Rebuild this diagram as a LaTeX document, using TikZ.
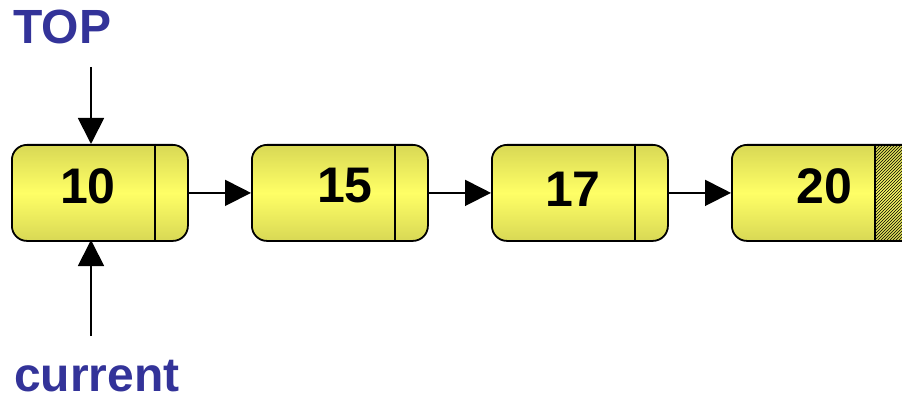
\documentclass[tikz,border=0pt]{standalone}
\usepackage{fontspec}
\setmainfont{Liberation Sans}
\usetikzlibrary{arrows.meta,patterns}
\definecolor{lblblue}{HTML}{333399}
\definecolor{ytop}{HTML}{D8D855}
\definecolor{ymid}{HTML}{FFFF66}
\tikzset{
  cell/.style={draw=black,line width=1.8pt,rounded corners=15pt,
    top color=ytop,bottom color=ytop,middle color=ymid,
    minimum height=96pt,anchor=north west,inner sep=0},
  num/.style={font=\bfseries\fontsize{50}{50}\selectfont},
  lbl/.style={font=\bfseries\fontsize{48}{48}\selectfont,text=lblblue,inner sep=0},
  link/.style={line width=1.8pt,-{Triangle[length=26pt,width=26pt]}},
  divider/.style={line width=1.8pt}
}
\begin{document}
\begin{tikzpicture}[x=1pt,y=-1pt]
\useasboundingbox (0,0) rectangle (902,398);
% boxes
\node[cell,minimum width=176pt] (b1) at (11,144) {};
\node[cell,minimum width=176pt] (b2) at (251,144) {};
\node[cell,minimum width=176pt] (b3) at (491,144) {};
\begin{scope}
\clip (0,0) rectangle (902,398);
\node[cell,minimum width=190pt] (b4) at (731,144) {};
\fill[pattern=north east lines,pattern color=black] (875,145) rectangle (910,239);
\draw[divider] (875,144) -- (875,240);
\end{scope}
% dividers
\draw[divider] (155,144) -- (155,240);
\draw[divider] (395,144) -- (395,240);
\draw[divider] (635,144) -- (635,240);
% numbers
\node[num] (n1) at (88,186) {10};
\node[num] (n2) at (345,186) {15};
\node[num] (n3) at (573,189) {17};
\node[num] (n4) at (824,186) {20};
% links
\draw[link] (b1.east) -- (b2.west);
\draw[link] (b2.east) -- (b3.west);
\draw[link] (b3.east) -- (b4.west);
% labels
\node[lbl,anchor=north west] (top) at (13,10) {TOP};
\node[lbl,anchor=base west] (cur) at (14,391) {current};
\coordinate (ts) at (91,67);
\coordinate (cs) at (91,336);
\draw[link] (ts) -- (91,144);
\draw[link] (cs) -- (91,240);
\end{tikzpicture}
\end{document}
